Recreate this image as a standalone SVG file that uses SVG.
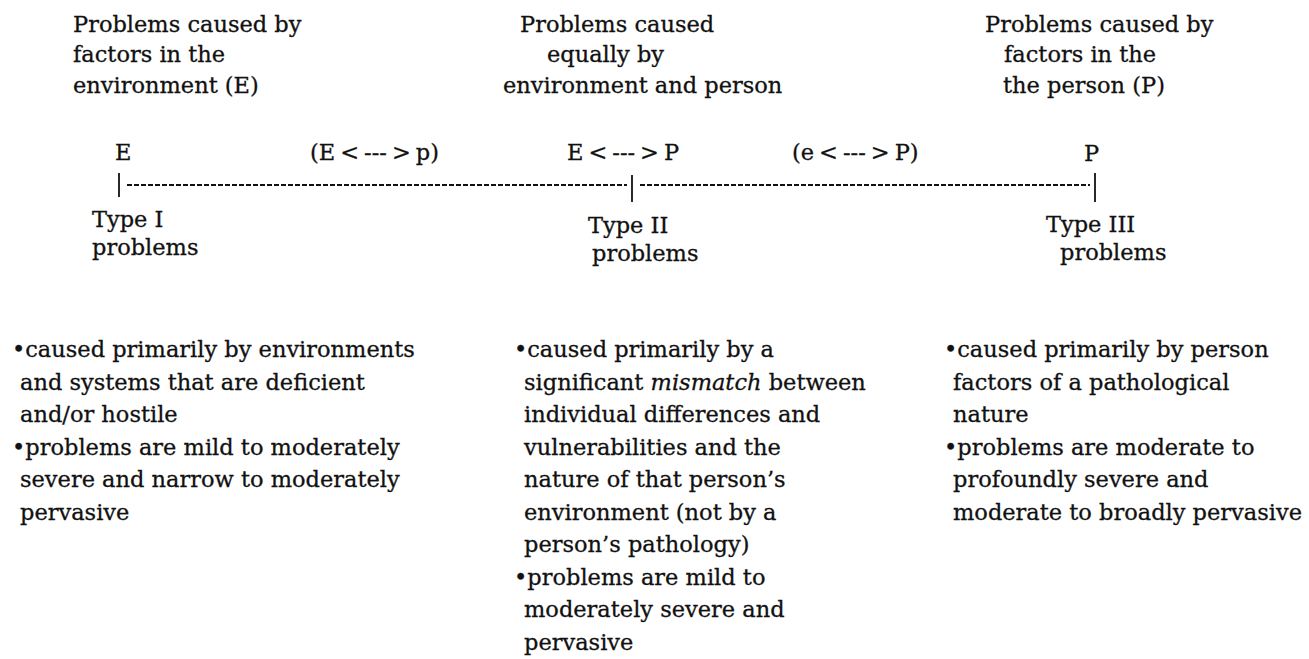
<svg xmlns="http://www.w3.org/2000/svg" width="1309" height="659" viewBox="0 0 1309 659">
<style>
text{font-family:"DejaVu Serif","Liberation Serif",serif;font-size:22.5px;fill:#111;stroke:#111;stroke-width:0.3}
.it{font-style:italic}
.tick{stroke:#111;stroke-width:1.8;fill:none}
.dash{stroke:#111;stroke-width:1.8;stroke-dasharray:5 2;fill:none}
</style>
<rect width="1309" height="659" fill="#fff"/>
<g id="heading-E">
<text x="73" y="32">Problems caused by</text>
<text x="73" y="62">factors in the</text>
<text x="73" y="93">environment (E)</text>
</g>
<g id="heading-EP">
<text x="520" y="32">Problems caused</text>
<text x="547" y="62">equally by</text>
<text x="503" y="93">environment and person</text>
</g>
<g id="heading-P">
<text x="985" y="32">Problems caused by</text>
<text x="1004" y="62">factors in the</text>
<text x="1003" y="93">the person (P)</text>
</g>
<g id="axis-labels">
<text x="115" y="160">E</text>
<text x="310" y="160">(E<tspan dx="5">&lt;</tspan><tspan dx="5">---</tspan><tspan dx="5">&gt;</tspan><tspan dx="5">p)</tspan></text>
<text x="567" y="160">E<tspan dx="5">&lt;</tspan><tspan dx="5">---</tspan><tspan dx="5">&gt;</tspan><tspan dx="5">P</tspan></text>
<text x="792" y="160">(e<tspan dx="5">&lt;</tspan><tspan dx="5">---</tspan><tspan dx="5">&gt;</tspan><tspan dx="5">P)</tspan></text>
<text x="1084" y="161">P</text>
</g>
<g id="connectors">
<line class="tick" x1="119" y1="173" x2="119" y2="197"/>
<line class="tick" x1="632" y1="175" x2="632" y2="202"/>
<line class="tick" x1="1095" y1="173" x2="1095" y2="202"/>
<line class="dash" x1="127" y1="185" x2="627" y2="185"/>
<line class="dash" x1="640" y1="185" x2="1090" y2="185"/>
</g>
<g id="type-I">
<text x="92" y="227">Type I</text>
<text x="92" y="255">problems</text>
</g>
<g id="type-II">
<text x="588" y="233">Type II</text>
<text x="592" y="261">problems</text>
</g>
<g id="type-III">
<text x="1046" y="232">Type III</text>
<text x="1060" y="260">problems</text>
</g>
<g id="desc-I">
<text x="12" y="357">•caused primarily by environments</text>
<text x="20" y="390">and systems that are deficient</text>
<text x="20" y="422">and/or hostile</text>
<text x="12" y="455">•problems are mild to moderately</text>
<text x="20" y="487">severe and narrow to moderately</text>
<text x="20" y="520">pervasive</text>
</g>
<g id="desc-II">
<text x="514" y="357">•caused primarily by a</text>
<text x="524" y="390">significant <tspan class="it">mismatch</tspan> between</text>
<text x="524" y="422">individual differences and</text>
<text x="524" y="455">vulnerabilities and the</text>
<text x="524" y="487">nature of that person’s</text>
<text x="524" y="520">environment (not by a</text>
<text x="524" y="552">person’s pathology)</text>
<text x="514" y="585">•problems are mild to</text>
<text x="524" y="617">moderately severe and</text>
<text x="524" y="650">pervasive</text>
</g>
<g id="desc-III">
<text x="944" y="357">•caused primarily by person</text>
<text x="953" y="390">factors of a pathological</text>
<text x="953" y="422">nature</text>
<text x="944" y="455">•problems are moderate to</text>
<text x="953" y="487">profoundly severe and</text>
<text x="953" y="520">moderate to broadly pervasive</text>
</g>
</svg>
